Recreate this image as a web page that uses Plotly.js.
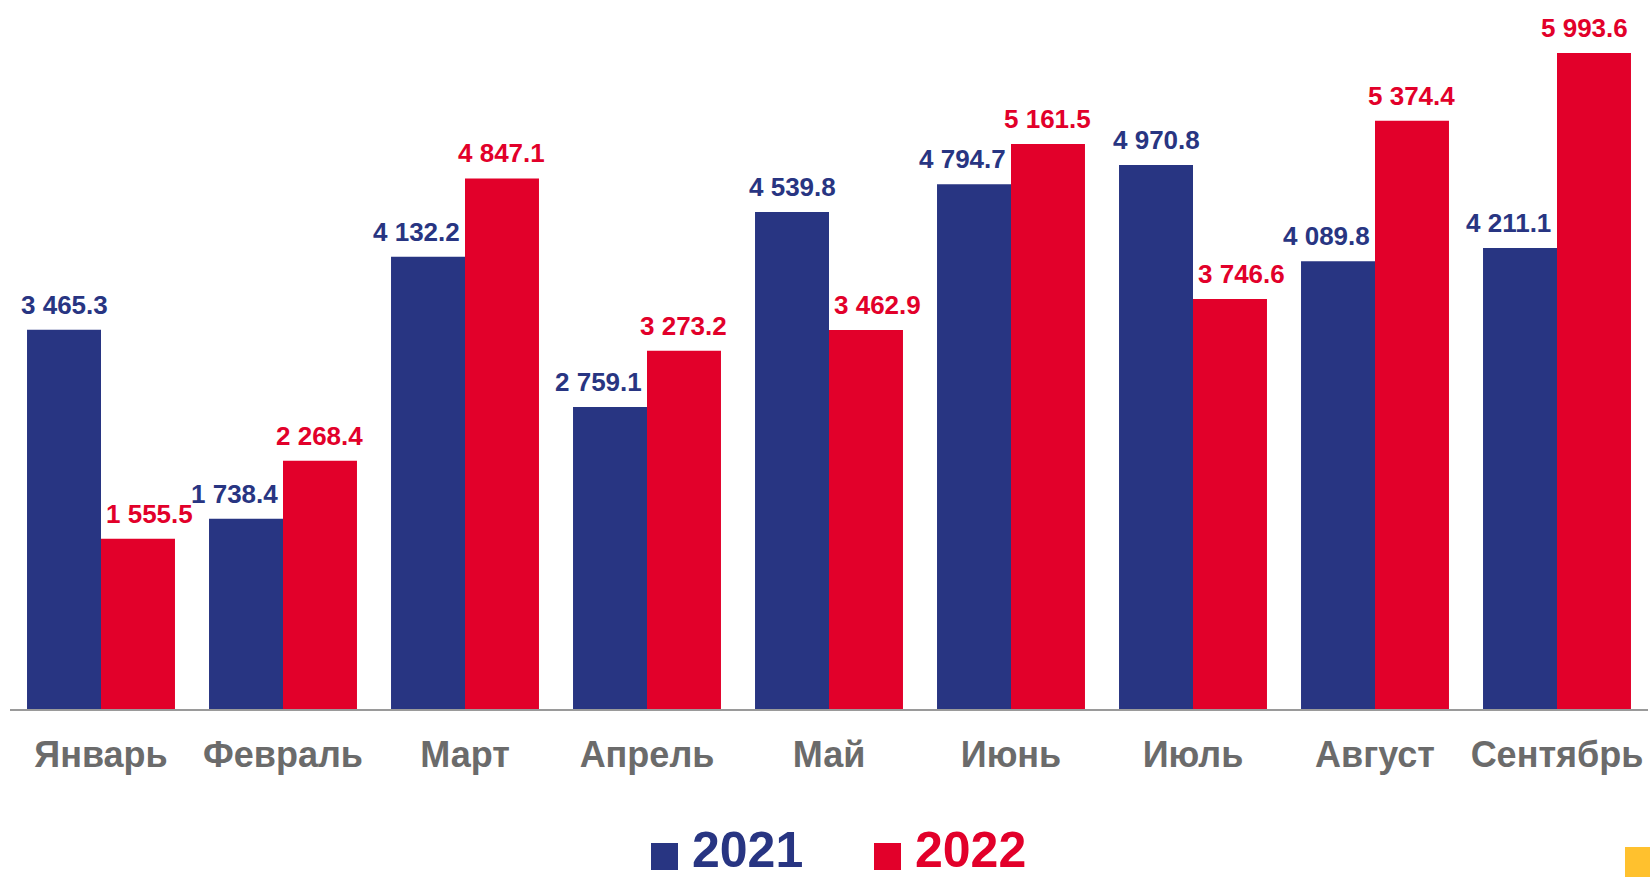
<!DOCTYPE html>
<html>
<head>
<meta charset="utf-8">
<script src="https://cdn.plot.ly/plotly-3.0.1.min.js"></script>
<style>html,body{margin:0;padding:0;background:#fff;}#chart{width:1650px;height:877px;}</style>
</head>
<body>
<div id="chart"></div>
<script>
const months = ['Январь','Февраль','Март','Апрель','Май','Июнь','Июль','Август','Сентябрь'];
const seriesNames = ['2021','2022'];
const values2021 = [3465.3, 1738.4, 4132.2, 2759.1, 4539.8, 4794.7, 4970.8, 4089.8, 4211.1];
const values2022 = [1555.5, 2268.4, 4847.1, 3273.2, 3462.9, 5161.5, 3746.6, 5374.4, 5993.6];

const BLUE = '#283582', RED = '#E2002A', GREY = '#6b6b6b', YELLOW = '#FFC12E';
const FONT = 'Liberation Sans, Arial, sans-serif';
const W = 1650, H = 877;
const M = {l: 10, r: 2, t: 10, b: 168};
const plotW = W - M.l - M.r, plotH = H - M.t - M.b;
const LABEL_SIZE = 26;

function fmt(v) {
  const s = v.toFixed(1);
  const [i, d] = s.split('.');
  return i.replace(/\B(?=(\d{3})+(?!\d))/g, ' ') + '.' + d;
}
const px2x = px => (px - M.l) / plotW;
const px2y = py => (H - M.b - py) / plotH;

// rough text width for bold Arial-metric digits
function textWidth(s, size) {
  let w = 0;
  for (const c of s) w += (c === ' ' || c === '.') ? 0.278 : 0.556;
  return w * size;
}

const traces = [
  {type: 'bar', name: seriesNames[0], x: months, y: values2021, marker: {color: BLUE}, hoverinfo: 'x+y'},
  {type: 'bar', name: seriesNames[1], x: months, y: values2022, marker: {color: RED}, hoverinfo: 'x+y'}
];

const bargap = 0.187;
const catPx = plotW / months.length;
const barPx = catPx * (1 - bargap) / 2;
const annotations = [];
const series = [[values2021, values2022, BLUE, -1], [values2022, values2021, RED, 1]];
series.forEach(([vals, other, col, side]) => {
  vals.forEach((v, i) => {
    const txt = fmt(v);
    const tw = textWidth(txt, LABEL_SIZE);
    let shift = side * barPx / 2;
    // label of the shorter bar is nudged away from its taller neighbour
    if (v < other[i]) shift += side * ((tw - barPx) / 2 + 5);
    // keep labels inside the plotting area
    const centre = M.l + catPx * (i + 0.5) + shift;
    const maxRight = W - 22;
    if (centre + tw / 2 > maxRight) shift -= centre + tw / 2 - maxRight;
    annotations.push({
      x: months[i], y: v, xref: 'x', yref: 'y', text: txt, showarrow: false,
      xanchor: 'center', yanchor: 'bottom', xshift: shift, yshift: 8,
      font: {family: FONT, size: LABEL_SIZE, color: col, weight: 'bold'}
    });
  });
});

// legend built from series names
const legendItems = [
  {name: seriesNames[0], color: BLUE, sq: 651, tx: 690},
  {name: seriesNames[1], color: RED, sq: 874, tx: 913}
];
const shapes = [];
legendItems.forEach(it => {
  shapes.push({type: 'rect', xref: 'paper', yref: 'paper',
    x0: px2x(it.sq), x1: px2x(it.sq + 27), y0: px2y(870), y1: px2y(843),
    fillcolor: it.color, line: {width: 0}});
  annotations.push({xref: 'paper', yref: 'paper', x: px2x(it.tx), y: px2y(850),
    xanchor: 'left', yanchor: 'middle', showarrow: false, text: it.name,
    font: {family: FONT, size: 50, color: it.color, weight: 'bold'}});
});
shapes.push({type: 'rect', xref: 'paper', yref: 'paper',
  x0: px2x(1625), x1: px2x(1652), y0: px2y(879), y1: px2y(847),
  fillcolor: YELLOW, line: {width: 0}});

const yMax = plotH / 0.10945;

const layout = {
  width: W, height: H,
  margin: M,
  paper_bgcolor: '#fff', plot_bgcolor: '#fff',
  showlegend: false,
  barmode: 'group', bargap: bargap, bargroupgap: 0,
  font: {family: FONT},
  xaxis: {
    type: 'category', showgrid: false, zeroline: false,
    showline: true, linecolor: '#9a9a9a', linewidth: 1.5,
    ticks: '', ticklabelstandoff: 13,
    tickfont: {family: FONT, size: 36, color: GREY, weight: 'bold'}
  },
  yaxis: {range: [0, yMax], visible: false, showgrid: false, zeroline: false, fixedrange: true},
  annotations: annotations,
  shapes: shapes
};

Plotly.newPlot('chart', traces, layout, {displayModeBar: false, staticPlot: true});
</script>
</body>
</html>
